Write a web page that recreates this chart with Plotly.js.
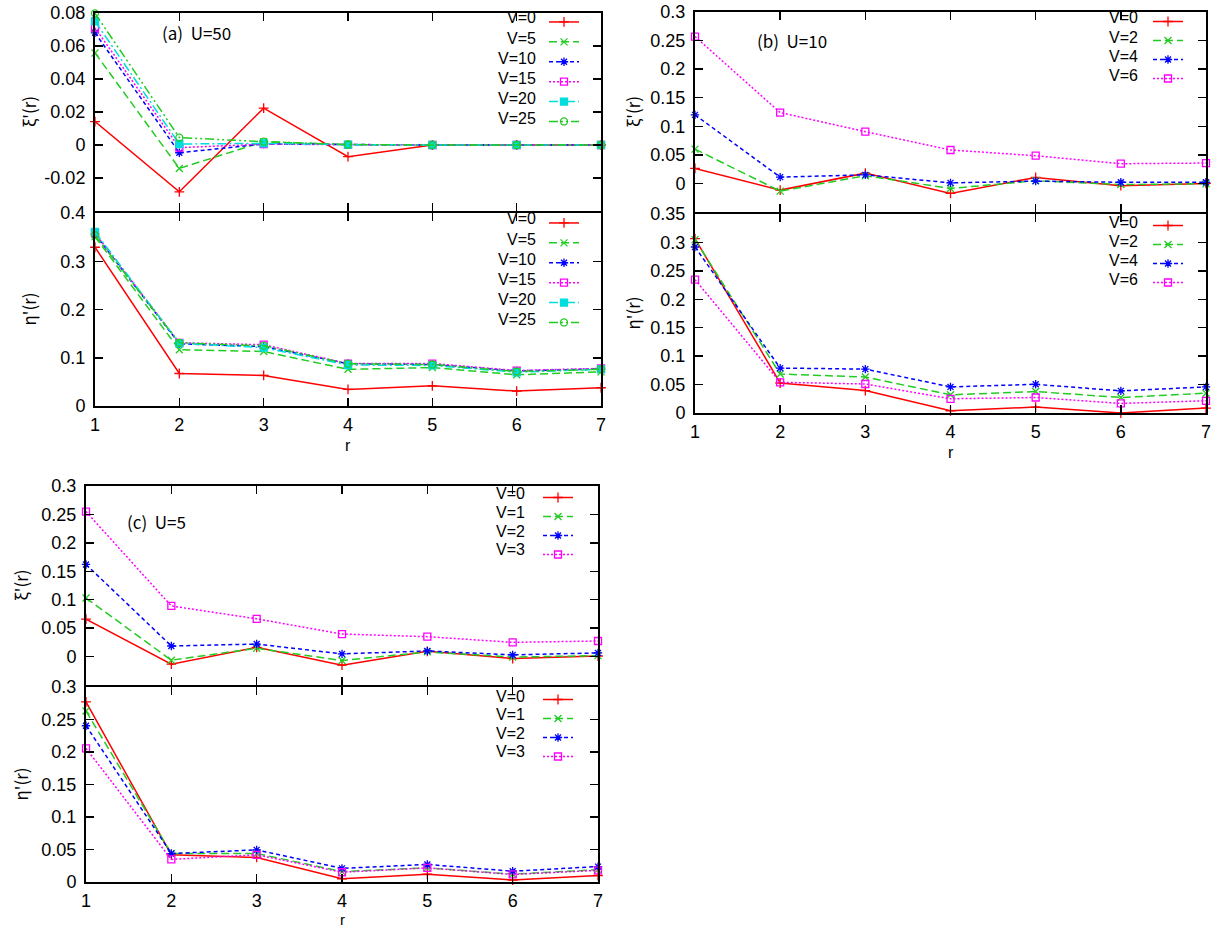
<!DOCTYPE html>
<html>
<head>
<meta charset="utf-8">
<script src="https://cdn.plot.ly/plotly-3.0.1.min.js"></script>
<style>html,body{margin:0;padding:0;background:#fff;}#chart{width:1218px;height:929px;}</style>
</head>
<body>
<div id="chart"></div>
<script>
// ---------------- DATA ----------------
const r = [1, 2, 3, 4, 5, 6, 7];

// Panel (a) U=50
const a_labels = ['V=0', 'V=5', 'V=10', 'V=15', 'V=20', 'V=25'];
const a_xi_V0  = [0.0142, -0.0284, 0.0223, -0.0071, 0.0, 0.0, 0.0];
const a_xi_V5  = [0.0558, -0.0142, 0.0020, 0.0002, 0.0, 0.0, 0.0];
const a_xi_V10 = [0.0680, -0.0047, 0.0006, 0.0001, 0.0, 0.0, 0.0];
const a_xi_V15 = [0.0710, -0.0016, 0.0005, 0.0001, 0.0, 0.0, 0.0];
const a_xi_V20 = [0.0750, 0.0006, 0.0010, 0.0002, 0.0, 0.0, 0.0];
const a_xi_V25 = [0.0798, 0.0045, 0.0020, 0.0003, 0.0, 0.0, 0.0];
const a_eta_V0  = [0.329, 0.0674, 0.0634, 0.0344, 0.0418, 0.0310, 0.0378];
const a_eta_V5  = [0.351, 0.1167, 0.1130, 0.0760, 0.0796, 0.0647, 0.0708];
const a_eta_V10 = [0.356, 0.1290, 0.1230, 0.0877, 0.0860, 0.0728, 0.0769];
const a_eta_V15 = [0.358, 0.1310, 0.1270, 0.0880, 0.0880, 0.0735, 0.0780];
const a_eta_V20 = [0.361, 0.1300, 0.1210, 0.0850, 0.0840, 0.0700, 0.0760];
const a_eta_V25 = [0.354, 0.1310, 0.1250, 0.0877, 0.0860, 0.0715, 0.0760];

// Panel (b) U=10
const b_labels = ['V=0', 'V=2', 'V=4', 'V=6'];
const b_xi_V0 = [0.0263, -0.0117, 0.0180, -0.0175, 0.0105, -0.0040, 0.0000];
const b_xi_V2 = [0.0600, -0.0135, 0.0135, -0.0088, 0.0047, -0.0020, -0.0005];
const b_xi_V4 = [0.1200, 0.0110, 0.0150, 0.0010, 0.0040, 0.0020, 0.0020];
const b_xi_V6 = [0.2570, 0.1240, 0.0906, 0.0585, 0.0485, 0.0345, 0.0357];
const b_eta_V0 = [0.3066, 0.0528, 0.0395, 0.0040, 0.0105, 0.0000, 0.0087];
const b_eta_V2 = [0.3050, 0.0685, 0.0633, 0.0320, 0.0377, 0.0273, 0.0348];
const b_eta_V4 = [0.2920, 0.0790, 0.0772, 0.0459, 0.0505, 0.0389, 0.0459];
const b_eta_V6 = [0.2345, 0.0540, 0.0510, 0.0250, 0.0273, 0.0168, 0.0215];

// Panel (c) U=5
const c_labels = ['V=0', 'V=1', 'V=2', 'V=3'];
const c_xi_V0 = [0.0659, -0.0134, 0.0163, -0.0152, 0.0093, -0.0035, 0.0010];
const c_xi_V1 = [0.1030, -0.0064, 0.0146, -0.0070, 0.0082, -0.0010, 0.0017];
const c_xi_V2 = [0.1620, 0.0186, 0.0220, 0.0047, 0.0099, 0.0030, 0.0064];
const c_xi_V3 = [0.2550, 0.0890, 0.0664, 0.0396, 0.0350, 0.0250, 0.0274];
const c_eta_V0 = [0.2770, 0.0418, 0.0378, 0.0050, 0.0120, 0.0030, 0.0100];
const c_eta_V1 = [0.2630, 0.0438, 0.0438, 0.0160, 0.0217, 0.0120, 0.0190];
const c_eta_V2 = [0.2404, 0.0438, 0.0494, 0.0210, 0.0270, 0.0166, 0.0237];
const c_eta_V3 = [0.2056, 0.0348, 0.0418, 0.0150, 0.0217, 0.0116, 0.0180];

// Tick values / labels
const xTicks = [1, 2, 3, 4, 5, 6, 7];
const xTickText = ['1', '2', '3', '4', '5', '6', '7'];
const a_xiTicks = [-0.02, 0, 0.02, 0.04, 0.06, 0.08];
const a_xiTickText = ['-0.02', '0', '0.02', '0.04', '0.06', '0.08'];
const a_etaTicks = [0, 0.1, 0.2, 0.3, 0.4];
const a_etaTickText = ['0', '0.1', '0.2', '0.3', '0.4'];
const bc_xiTicks = [0, 0.05, 0.1, 0.15, 0.2, 0.25, 0.3];
const bc_xiTickText = ['0', '0.05', '0.1', '0.15', '0.2', '0.25', '0.3'];
const b_etaTicks = [0, 0.05, 0.1, 0.15, 0.2, 0.25, 0.3, 0.35];
const b_etaTickText = ['0', '0.05', '0.1', '0.15', '0.2', '0.25', '0.3', '0.35'];
const c_etaTicks = [0, 0.05, 0.1, 0.15, 0.2, 0.25, 0.3];
const c_etaTickText = ['0', '0.05', '0.1', '0.15', '0.2', '0.25', '0.3'];

// ---------------- STYLE ----------------
const W = 1218, H = 929;
const fx = p => p / W;
const fy = p => 1 - p / H;

const styles = [
  {color: '#ff0000', dash: 'solid', symbol: 'cross-thin'},
  {color: '#22cc22', dash: '8px,4px', symbol: 'x-thin'},
  {color: '#0000ff', dash: '4px,3px', symbol: 'asterisk'},
  {color: '#ff00ff', dash: '2px,2px', symbol: 'square-open'},
  {color: '#00dddd', dash: '9px,3px,2px,3px', symbol: 'square'},
  {color: '#22cc22', dash: '9px,3px,2px,3px,2px,3px', symbol: 'circle-open'}
];

const panels = [
  {id: 'a', labels: a_labels,
   xi: [a_xi_V0, a_xi_V5, a_xi_V10, a_xi_V15, a_xi_V20, a_xi_V25],
   eta: [a_eta_V0, a_eta_V5, a_eta_V10, a_eta_V15, a_eta_V20, a_eta_V25],
   left: 95, right: 601, top: 13, mid: 212, bottom: 406,
   xiRange: [-0.04, 0.08], xiTicks: a_xiTicks, xiText: a_xiTickText,
   etaRange: [0, 0.4], etaTicks: a_etaTicks, etaText: a_etaTickText,
   title: '(a)  U=50', titleX: 160, titleY: 33,
   keyTextRight: 538, keyLegendX: 544, keyRow1: 18, keyRow2: 219, keyGap: 20, keyFont: 13,
   yTitleX: 28, rTitleY: 445, rBottom: false},
  {id: 'b', labels: b_labels,
   xi: [b_xi_V0, b_xi_V2, b_xi_V4, b_xi_V6],
   eta: [b_eta_V0, b_eta_V2, b_eta_V4, b_eta_V6],
   left: 695, right: 1206, top: 12, mid: 213, bottom: 413,
   xiRange: [-0.05, 0.3], xiTicks: bc_xiTicks, xiText: bc_xiTickText,
   etaRange: [0, 0.35], etaTicks: b_etaTicks, etaText: b_etaTickText,
   title: '(b)  U=10', titleX: 755, titleY: 40,
   keyTextRight: 1140, keyLegendX: 1148, keyRow1: 18, keyRow2: 222, keyGap: 19, keyFont: 12,
   yTitleX: 632, rTitleY: 452, rBottom: false},
  {id: 'c', labels: c_labels,
   xi: [c_xi_V0, c_xi_V1, c_xi_V2, c_xi_V3],
   eta: [c_eta_V0, c_eta_V1, c_eta_V2, c_eta_V3],
   left: 86, right: 598, top: 486, mid: 686, bottom: 882,
   xiRange: [-0.05, 0.3], xiTicks: bc_xiTicks, xiText: bc_xiTickText,
   etaRange: [0, 0.3], etaTicks: c_etaTicks, etaText: c_etaTickText,
   title: '(c)  U=5', titleX: 125, titleY: 521,
   keyTextRight: 527, keyLegendX: 538, keyRow1: 494, keyRow2: 696, keyGap: 18.5, keyFont: 12,
   yTitleX: 20, rTitleY: 929, rBottom: true}
];

const tickFont = {family: 'Liberation Sans, Arial, sans-serif', size: 18, color: '#000'};
const titleFont = {family: 'Noto Sans CJK JP, sans-serif', size: 17, color: '#000'};
const rFont = {family: 'Liberation Sans, Arial, sans-serif', size: 16, color: '#000'};
const keyFont = {family: 'Liberation Sans, Arial, sans-serif', size: 16, color: '#000'};

const traces = [];
const layout = {
  width: W, height: H,
  margin: {l: 0, r: 0, t: 0, b: 0},
  paper_bgcolor: '#fff', plot_bgcolor: '#fff',
  showlegend: true,
  annotations: []
};

function axisBase() {
  return {
    showline: true, linewidth: 2, linecolor: '#000', mirror: 'ticks',
    ticks: 'inside', ticklen: 8, tickwidth: 1.5, tickcolor: '#000',
    showgrid: false, zeroline: false, fixedrange: true,
    tickfont: tickFont
  };
}

let axN = 0, legN = 0;
panels.forEach(p => {
  ['xi', 'eta'].forEach((kind, k) => {
    axN += 1; legN += 1;
    const xa = 'xaxis' + (axN === 1 ? '' : axN);
    const ya = 'yaxis' + (axN === 1 ? '' : axN);
    const xr = 'x' + (axN === 1 ? '' : axN);
    const yr = 'y' + (axN === 1 ? '' : axN);
    const lg = 'legend' + (legN === 1 ? '' : legN);
    // shift by 1px so the shared border lines overlap into one
    const topPx = k === 0 ? p.top : p.mid + 1;
    const botPx = k === 0 ? p.mid - 1 : p.bottom;

    layout[xa] = Object.assign(axisBase(), {
      domain: [fx(p.left), fx(p.right)], anchor: yr, range: [1, 7],
      tickmode: 'array', tickvals: xTicks, ticktext: xTickText,
      showticklabels: k === 1, ticklabelstandoff: 1
    });
    layout[ya] = Object.assign(axisBase(), {
      domain: [fy(botPx), fy(topPx)], anchor: xr,
      range: k === 0 ? p.xiRange : p.etaRange,
      tickmode: 'array',
      tickvals: k === 0 ? p.xiTicks : p.etaTicks,
      ticktext: k === 0 ? p.xiText : p.etaText,
      ticklabelstandoff: 4
    });

    const series = p[kind];
    series.forEach((vals, i) => {
      const s = styles[i];
      traces.push({
        type: 'scatter', mode: 'lines+markers', x: r, y: vals,
        xaxis: xr, yaxis: yr, legend: lg, name: ' ',
        cliponaxis: false, hoverinfo: 'skip',
        line: {color: s.color, width: 1.5, dash: s.dash},
        marker: {symbol: s.symbol, size: 7, color: s.color,
                 line: {color: s.color, width: 1.3}}
      });
    });

    const rowTop = k === 0 ? p.keyRow1 : p.keyRow2;
    layout[lg] = {
      x: fx(p.keyLegendX), y: fy(rowTop - 11), xref: 'paper', yref: 'paper',
      xanchor: 'left', yanchor: 'top', bgcolor: 'rgba(0,0,0,0)', borderwidth: 0,
      font: {family: 'Liberation Sans, sans-serif', size: p.keyFont},
      tracegroupgap: 0, itemclick: false, itemdoubleclick: false
    };
    p.labels.forEach((lab, i) => {
      layout.annotations.push({
        xref: 'paper', yref: 'paper', x: fx(p.keyTextRight), y: fy(rowTop + i * p.keyGap),
        xanchor: 'right', yanchor: 'middle', text: lab, showarrow: false, font: keyFont
      });
    });

    // y-axis title
    layout.annotations.push({
      xref: 'paper', yref: 'paper', x: fx(p.yTitleX), y: fy((topPx + botPx) / 2),
      xanchor: 'center', yanchor: 'middle', textangle: -90,
      text: kind === 'xi' ? "ξ'(r)" : "η'(r)", showarrow: false, font: titleFont
    });
  });
  // panel label
  layout.annotations.push({
    xref: 'paper', yref: 'paper', x: fx(p.titleX), y: fy(p.titleY),
    xanchor: 'left', yanchor: 'middle', text: p.title, showarrow: false, font: titleFont
  });
  // r title
  layout.annotations.push({
    xref: 'paper', yref: 'paper', x: fx((p.left + p.right) / 2), y: fy(p.rTitleY),
    xanchor: 'center', yanchor: p.rBottom ? 'bottom' : 'middle', text: 'r',
    showarrow: false, font: p.rBottom ? {family: rFont.family, size: 15, color: '#000'} : rFont,
    borderpad: 0
  });
});

Plotly.newPlot('chart', traces, layout, {displayModeBar: false, staticPlot: true});
</script>
</body>
</html>
